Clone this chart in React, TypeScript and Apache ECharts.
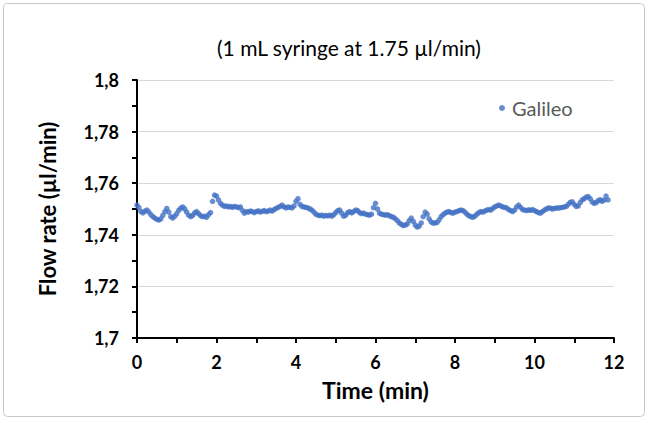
import React, { useEffect, useRef } from "react";
import * as echarts from "echarts";

// Title / labels
const titleText = "(1 mL syringe at 1.75 µl/min)";
const seriesName = "Galileo";
const xAxisName = "Time (min)";
const yAxisName = "Flow rate (µl/min)";

// Sampling grid of the recording (minutes between samples)
const sampleStep = 0.05;

// Flow rate readings (µl/min), one per sample, starting at t = 0
const flowRates: number[] = [
  // 0.00 - 0.95
  1.7515, 1.7505, 1.749, 1.7485, 1.7492, 1.7496, 1.7488, 1.7478, 1.747, 1.7465,
  1.746, 1.7457, 1.7462, 1.7475, 1.749, 1.7502, 1.7488, 1.747, 1.7465, 1.7472,
  // 1.00 - 1.95
  1.7482, 1.7495, 1.7503, 1.7508, 1.75, 1.7488, 1.7476, 1.747, 1.7475, 1.7485,
  1.749, 1.7482, 1.7474, 1.747, 1.7472, 1.7468, 1.7478, 1.7486, 1.753, 1.7554,
  // 2.00 - 2.95
  1.755, 1.7535, 1.7522, 1.7515, 1.751, 1.7512, 1.7508, 1.751, 1.7506, 1.751,
  1.7508, 1.7505, 1.7508, 1.7495, 1.7484, 1.749, 1.7488, 1.7492, 1.749, 1.7486,
  // 3.00 - 3.95
  1.749, 1.7493, 1.7488, 1.7491, 1.7494, 1.749, 1.7492, 1.7496, 1.7492, 1.7498,
  1.7502, 1.7506, 1.751, 1.7515, 1.7508, 1.7504, 1.7508, 1.7506, 1.7504, 1.7512,
  // 4.00 - 4.95
  1.753, 1.754, 1.7518, 1.751, 1.7508, 1.7506, 1.7504, 1.75, 1.7496, 1.7488,
  1.748, 1.7476, 1.7474, 1.7476, 1.7472, 1.7475, 1.7473, 1.7476, 1.7472, 1.7478,
  // 5.00 - 5.95
  1.7486, 1.7494, 1.7496, 1.7484, 1.7472, 1.7476, 1.7486, 1.749, 1.7485, 1.749,
  1.7496, 1.7494, 1.7486, 1.7482, 1.7484, 1.748, 1.7478, 1.7476, 1.748, 1.7505,
  // 6.00 - 6.95
  1.7522, 1.75, 1.7484, 1.748, 1.7478, 1.7476, 1.7478, 1.7474, 1.747, 1.7468,
  1.7462, 1.7455, 1.7446, 1.744, 1.7436, 1.7438, 1.7442, 1.7455, 1.7465, 1.7452,
  // 7.00 - 7.95
  1.7438, 1.743, 1.7434, 1.7446, 1.747, 1.7488, 1.748, 1.7462, 1.745, 1.7445,
  1.7446, 1.7448, 1.7458, 1.747, 1.7478, 1.7484, 1.7488, 1.749, 1.7486, 1.7484,
  // 8.00 - 8.95
  1.7488, 1.749, 1.7494, 1.7496, 1.7494, 1.7488, 1.748, 1.7474, 1.747, 1.7468,
  1.7472, 1.748, 1.7486, 1.749, 1.7488, 1.7492, 1.7496, 1.7498, 1.7496, 1.7502,
  // 9.00 - 9.95
  1.7508, 1.7512, 1.7515, 1.7512, 1.7508, 1.7506, 1.7504, 1.7498, 1.7494, 1.749,
  1.7496, 1.7508, 1.7515, 1.7506, 1.7498, 1.7496, 1.7494, 1.7497, 1.7495, 1.7498,
  // 10.00 - 10.95
  1.7494, 1.749, 1.7486, 1.7484, 1.749, 1.7496, 1.75, 1.7504, 1.7503, 1.75,
  1.7502, 1.7504, 1.7503, 1.7505, 1.7506, 1.7508, 1.751, 1.7518, 1.7526, 1.7528,
  // 11.00 - 11.85
  1.7518, 1.751, 1.7512, 1.7525, 1.7535, 1.754, 1.7546, 1.7548, 1.754, 1.7528,
  1.7522, 1.7525, 1.7532, 1.7536, 1.753, 1.7534, 1.755, 1.7535,
];

// Axis ranges / ticks
const xMin = 0;
const xMax = 12;
const xInterval = 2;
const yMin = 1.7;
const yMax = 1.8;
const yInterval = 0.02;

const FONT = "Lato";

export default function App() {
  const ref = useRef<HTMLDivElement>(null);

  useEffect(() => {
    if (!ref.current) return;
    const chart = echarts.init(ref.current, undefined, { renderer: "svg" });
    const points = flowRates.map((v, i) => [
      Number((i * sampleStep).toFixed(2)),
      v,
    ]);
    chart.setOption({
      animation: false,
      backgroundColor: "#ffffff",
      textStyle: { fontFamily: FONT },
      graphic: [
        {
          type: "rect",
          shape: { x: 3.5, y: 3.5, width: 641, height: 413, r: 4 },
          style: { fill: "none", stroke: "#c8c8c8", lineWidth: 1 },
          silent: true,
        },
      ],
      title: {
        text: titleText,
        left: 212,
        top: 32,
        textStyle: {
          fontFamily: FONT,
          fontSize: 21,
          fontWeight: "normal",
          color: "#000000",
        },
      },
      legend: {
        data: [seriesName],
        left: 494,
        top: 93,
        icon: "circle",
        itemWidth: 6,
        itemHeight: 6,
        itemGap: 4,
        textStyle: { fontFamily: FONT, fontSize: 20, color: "#595959", padding: [0, 0, 0, 2] },
      },
      grid: {
        left: 137,
        right: 34,
        top: 80,
        bottom: 85,
        containLabel: false,
      },
      xAxis: {
        type: "value",
        min: xMin,
        max: xMax,
        interval: xInterval,
        name: xAxisName,
        nameLocation: "middle",
        nameGap: 40,
        nameTextStyle: {
          fontFamily: FONT,
          fontSize: 23,
          fontWeight: "bold",
          color: "#000000",
        },
        axisLine: { show: true, onZero: false, lineStyle: { color: "#000000", width: 2 } },
        axisTick: { show: true, length: 5, lineStyle: { color: "#000000", width: 2 } },
        minorTick: { show: true, splitNumber: 2, length: 5, lineStyle: { color: "#000000", width: 2 } },
        axisLabel: {
          fontFamily: FONT,
          fontSize: 18,
          fontWeight: "bold",
          color: "#000000",
          margin: 15,
        },
        splitLine: { show: false },
      },
      yAxis: {
        type: "value",
        min: yMin,
        max: yMax,
        interval: yInterval,
        name: yAxisName,
        nameLocation: "middle",
        nameGap: 79,
        nameRotate: 90,
        nameTextStyle: {
          fontFamily: FONT,
          fontSize: 22,
          fontWeight: "bold",
          color: "#000000",
        },
        axisLine: { show: true, lineStyle: { color: "#000000", width: 2 } },
        axisTick: { show: true, length: 5, lineStyle: { color: "#000000", width: 2 } },
        minorTick: { show: true, splitNumber: 2, length: 5, lineStyle: { color: "#000000", width: 2 } },
        axisLabel: {
          fontFamily: FONT,
          fontSize: 18,
          fontWeight: "bold",
          color: "#000000",
          margin: 18,
          formatter: (v: number) =>
            String(Number(v.toFixed(2))).replace(".", ","),
        },
        splitLine: { show: true, lineStyle: { color: "#d9d9d9", width: 1 } },
      },
      series: [
        {
          name: seriesName,
          type: "scatter",
          data: points,
          symbol: "circle",
          symbolSize: 5.5,
          itemStyle: { color: "#4472C4" },
        },
      ],
    });
    return () => chart.dispose();
  }, []);

  return (
    <div
      ref={ref}
      style={{ position: "absolute", left: 0, top: 0, width: 648, height: 423 }}
    />
  );
}
